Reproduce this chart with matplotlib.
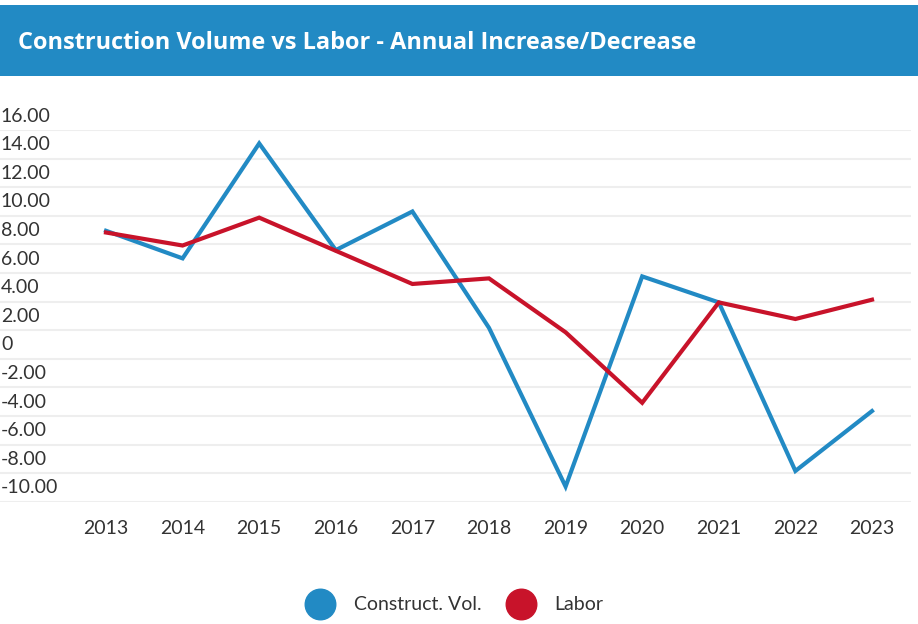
import matplotlib
matplotlib.use('Agg')
import matplotlib.pyplot as plt
import matplotlib.transforms as mtransforms
from matplotlib.patches import Rectangle

years = [2013, 2014, 2015, 2016, 2017, 2018, 2019, 2020, 2021, 2022, 2023]
construct_vol = [8.95, 7.02, 15.06, 7.6, 10.3, 2.16, -8.94, 5.76, 3.94, -7.85, -3.66]
labor = [8.83, 7.92, 9.87, 7.55, 5.23, 5.62, 1.85, -3.08, 3.94, 2.78, 4.13]
y_ticks = [16, 14, 12, 10, 8, 6, 4, 2, 0, -2, -4, -6, -8, -10]
y_tick_labels = ['16.00', '14.00', '12.00', '10.00', '8.00', '6.00', '4.00', '2.00',
                 '0', '-2.00', '-4.00', '-6.00', '-8.00', '-10.00']

title = 'Construction Volume vs Labor - Annual Increase/Decrease'
blue = '#228AC4'
red = '#C8132A'
text_col = '#333333'
font = 'Lato'
W, H = 918, 624

fig = plt.figure(figsize=(W / 100, H / 100), dpi=100)

# title bar
fig.patches.append(Rectangle((0, 1 - 76 / H), 1, 71 / H, transform=fig.transFigure,
                             facecolor=blue, edgecolor='none', zorder=0))
t = fig.text(18 / W, 1 - 43 / H, title, color='white', fontsize=20, fontweight='bold',
             family='Open Sans', va='center', ha='left')
fig.canvas.draw()
w = t.get_window_extent().width
t.set_fontsize(20 * 679 / w)

# plot area
ax = fig.add_axes([0, 1 - 501.7 / H, 910.7 / W, (501.7 - 130) / H])
ax.plot(years, construct_vol, color=blue, lw=3, solid_joinstyle='miter', zorder=3)
ax.plot(years, labor, color=red, lw=3, solid_joinstyle='miter', zorder=4)

ax.set_ylim(-10, 16)
ax.set_xlim(2013 - 106 / 76.6, 2013 + (910.7 - 106) / 76.6)
ax.set_yticks(y_ticks)
ax.set_yticklabels([])
ax.tick_params(axis='y', length=0)
ax.grid(axis='y', color='#EEEEEE', lw=1.5)
ax.set_axisbelow(True)
for s in ax.spines.values():
    s.set_visible(False)

ax.set_xticks(years)
ax.set_xticklabels([str(y) for y in years], fontsize=14, color=text_col, family=font)
ax.tick_params(axis='x', length=0, pad=13)

# y labels sit above their grid lines
trans = mtransforms.offset_copy(ax.get_yaxis_transform(), fig=fig, x=0, y=10, units='points')
for v, lab in zip(y_ticks, y_tick_labels):
    ax.text(0.001, v, lab, transform=trans, fontsize=14, color=text_col,
            family=font, ha='left', va='center')

# legend
ly = 1 - 604 / H
fig.add_artist(plt.Line2D([320 / W], [ly], marker='o', markersize=22, color=blue,
                          transform=fig.transFigure, linestyle='none'))
fig.text(354 / W, ly, 'Construct. Vol.', fontsize=14, color=text_col, family=font,
         va='center', ha='left')
fig.add_artist(plt.Line2D([521 / W], [ly], marker='o', markersize=22, color=red,
                          transform=fig.transFigure, linestyle='none'))
fig.text(554 / W, ly, 'Labor', fontsize=14, color=text_col, family=font,
         va='center', ha='left')

fig.savefig('out.png', dpi=100)
